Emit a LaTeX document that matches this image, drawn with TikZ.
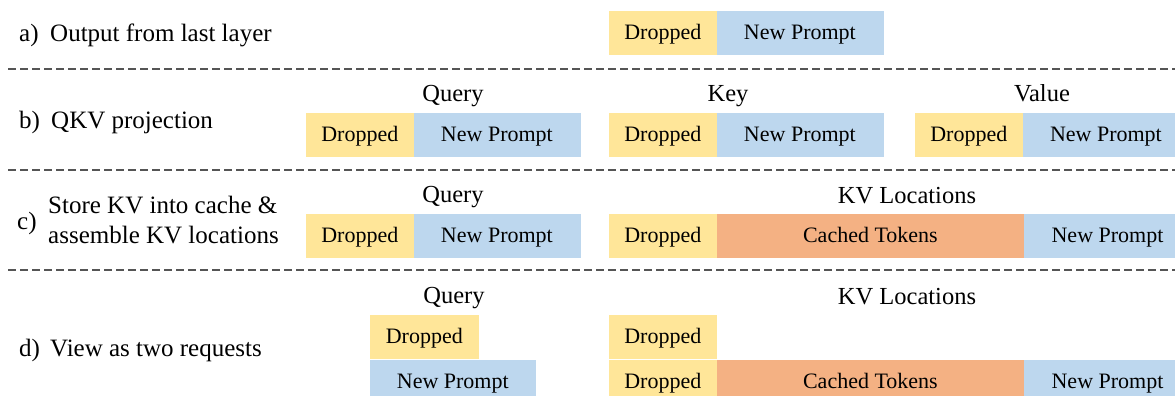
\documentclass[tikz,border=0pt]{standalone}
\usepackage{fontspec}
\setmainfont{Liberation Serif}
\definecolor{dropc}{HTML}{FFE699}
\definecolor{newc}{HTML}{BDD7EE}
\definecolor{cachec}{HTML}{F4B183}
\definecolor{sepc}{HTML}{555555}
\begin{document}
\begin{tikzpicture}[x=1pt,y=-1pt,
  tok/.style={rectangle, inner sep=0pt, minimum height=43pt, anchor=west,
    text height=16.5pt, text depth=3pt, line width=0.6pt,
    font=\fontsize{22}{26}\selectfont, text=black},
  drop/.style={tok, fill=dropc, draw=dropc, minimum width=107pt},
  newp/.style={tok, fill=newc, draw=newc, minimum width=166pt},
  cached/.style={tok, fill=cachec, draw=cachec, minimum width=307pt},
  title/.style={anchor=base, inner sep=0pt, font=\fontsize{24.5}{28}\selectfont},
  lbl/.style={anchor=base west, inner sep=0pt, font=\fontsize{25}{30}\selectfont},
  sep/.style={draw=sepc, line width=1.5pt, dash pattern=on 8pt off 4pt}]

\clip (0,0) rectangle (1175,396);

% separators between the four stages
\draw[sep] (8,69) -- (1180,69);
\draw[sep] (8,170) -- (1180,170);
\draw[sep] (8,270) -- (1180,270);

% a) output from last layer
\node[lbl] (la) at (19,42) {a)};
\node[lbl] (ta) at (50,42) {Output from last layer};
\node[drop] (a1) at (609,32.5) {Dropped};
\node[newp] (a2) at (a1.east) {New Prompt};

% b) QKV projection
\node[lbl] (lb) at (19,128) {b)};
\node[lbl] (tb) at (51,128) {QKV projection};
\node[title] (bqt) at (453,101) {Query};
\node[title] (bkt) at (728,101) {Key};
\node[title] (bvt) at (1042,101) {Value};
\node[drop] (bq1) at (306,134.5) {Dropped};
\node[newp] (bq2) at (bq1.east) {New Prompt};
\node[drop] (bk1) at (609,134.5) {Dropped};
\node[newp] (bk2) at (bk1.east) {New Prompt};
\node[drop] (bv1) at (915,134.5) {Dropped};
\node[newp] (bv2) at (bv1.east) {New Prompt};

% c) store KV into cache and assemble KV locations
\node[lbl] (lc) at (17,229) {c)};
\node[lbl] (tc1) at (48,213) {Store KV into cache \&};
\node[lbl] (tc2) at (48,243) {assemble KV locations};
\node[title] (cqt) at (453,202) {Query};
\node[title] (ckt) at (907,203) {KV Locations};
\node[drop] (cq1) at (306,235.5) {Dropped};
\node[newp] (cq2) at (cq1.east) {New Prompt};
\node[drop] (ck1) at (609,235.5) {Dropped};
\node[cached] (ck2) at (ck1.east) {Cached Tokens};
\node[newp] (ck3) at (ck2.east) {New Prompt};

% d) view as two requests
\node[lbl] (ld) at (19,356) {d)};
\node[lbl] (td) at (50,356) {View as two requests};
\node[title] (dqt) at (454,303) {Query};
\node[title] (dkt) at (907,304) {KV Locations};
\node[drop, minimum width=108pt] (dq1) at (370,336.5) {Dropped};
\node[newp, minimum width=165pt] (dq2) at (370,381.5) {New Prompt};
\node[drop] (dk1) at (609,336.5) {Dropped};
\node[drop] (dk2) at (609,381.5) {Dropped};
\node[cached] (dk3) at (dk2.east) {Cached Tokens};
\node[newp] (dk4) at (dk3.east) {New Prompt};
\end{tikzpicture}
\end{document}
